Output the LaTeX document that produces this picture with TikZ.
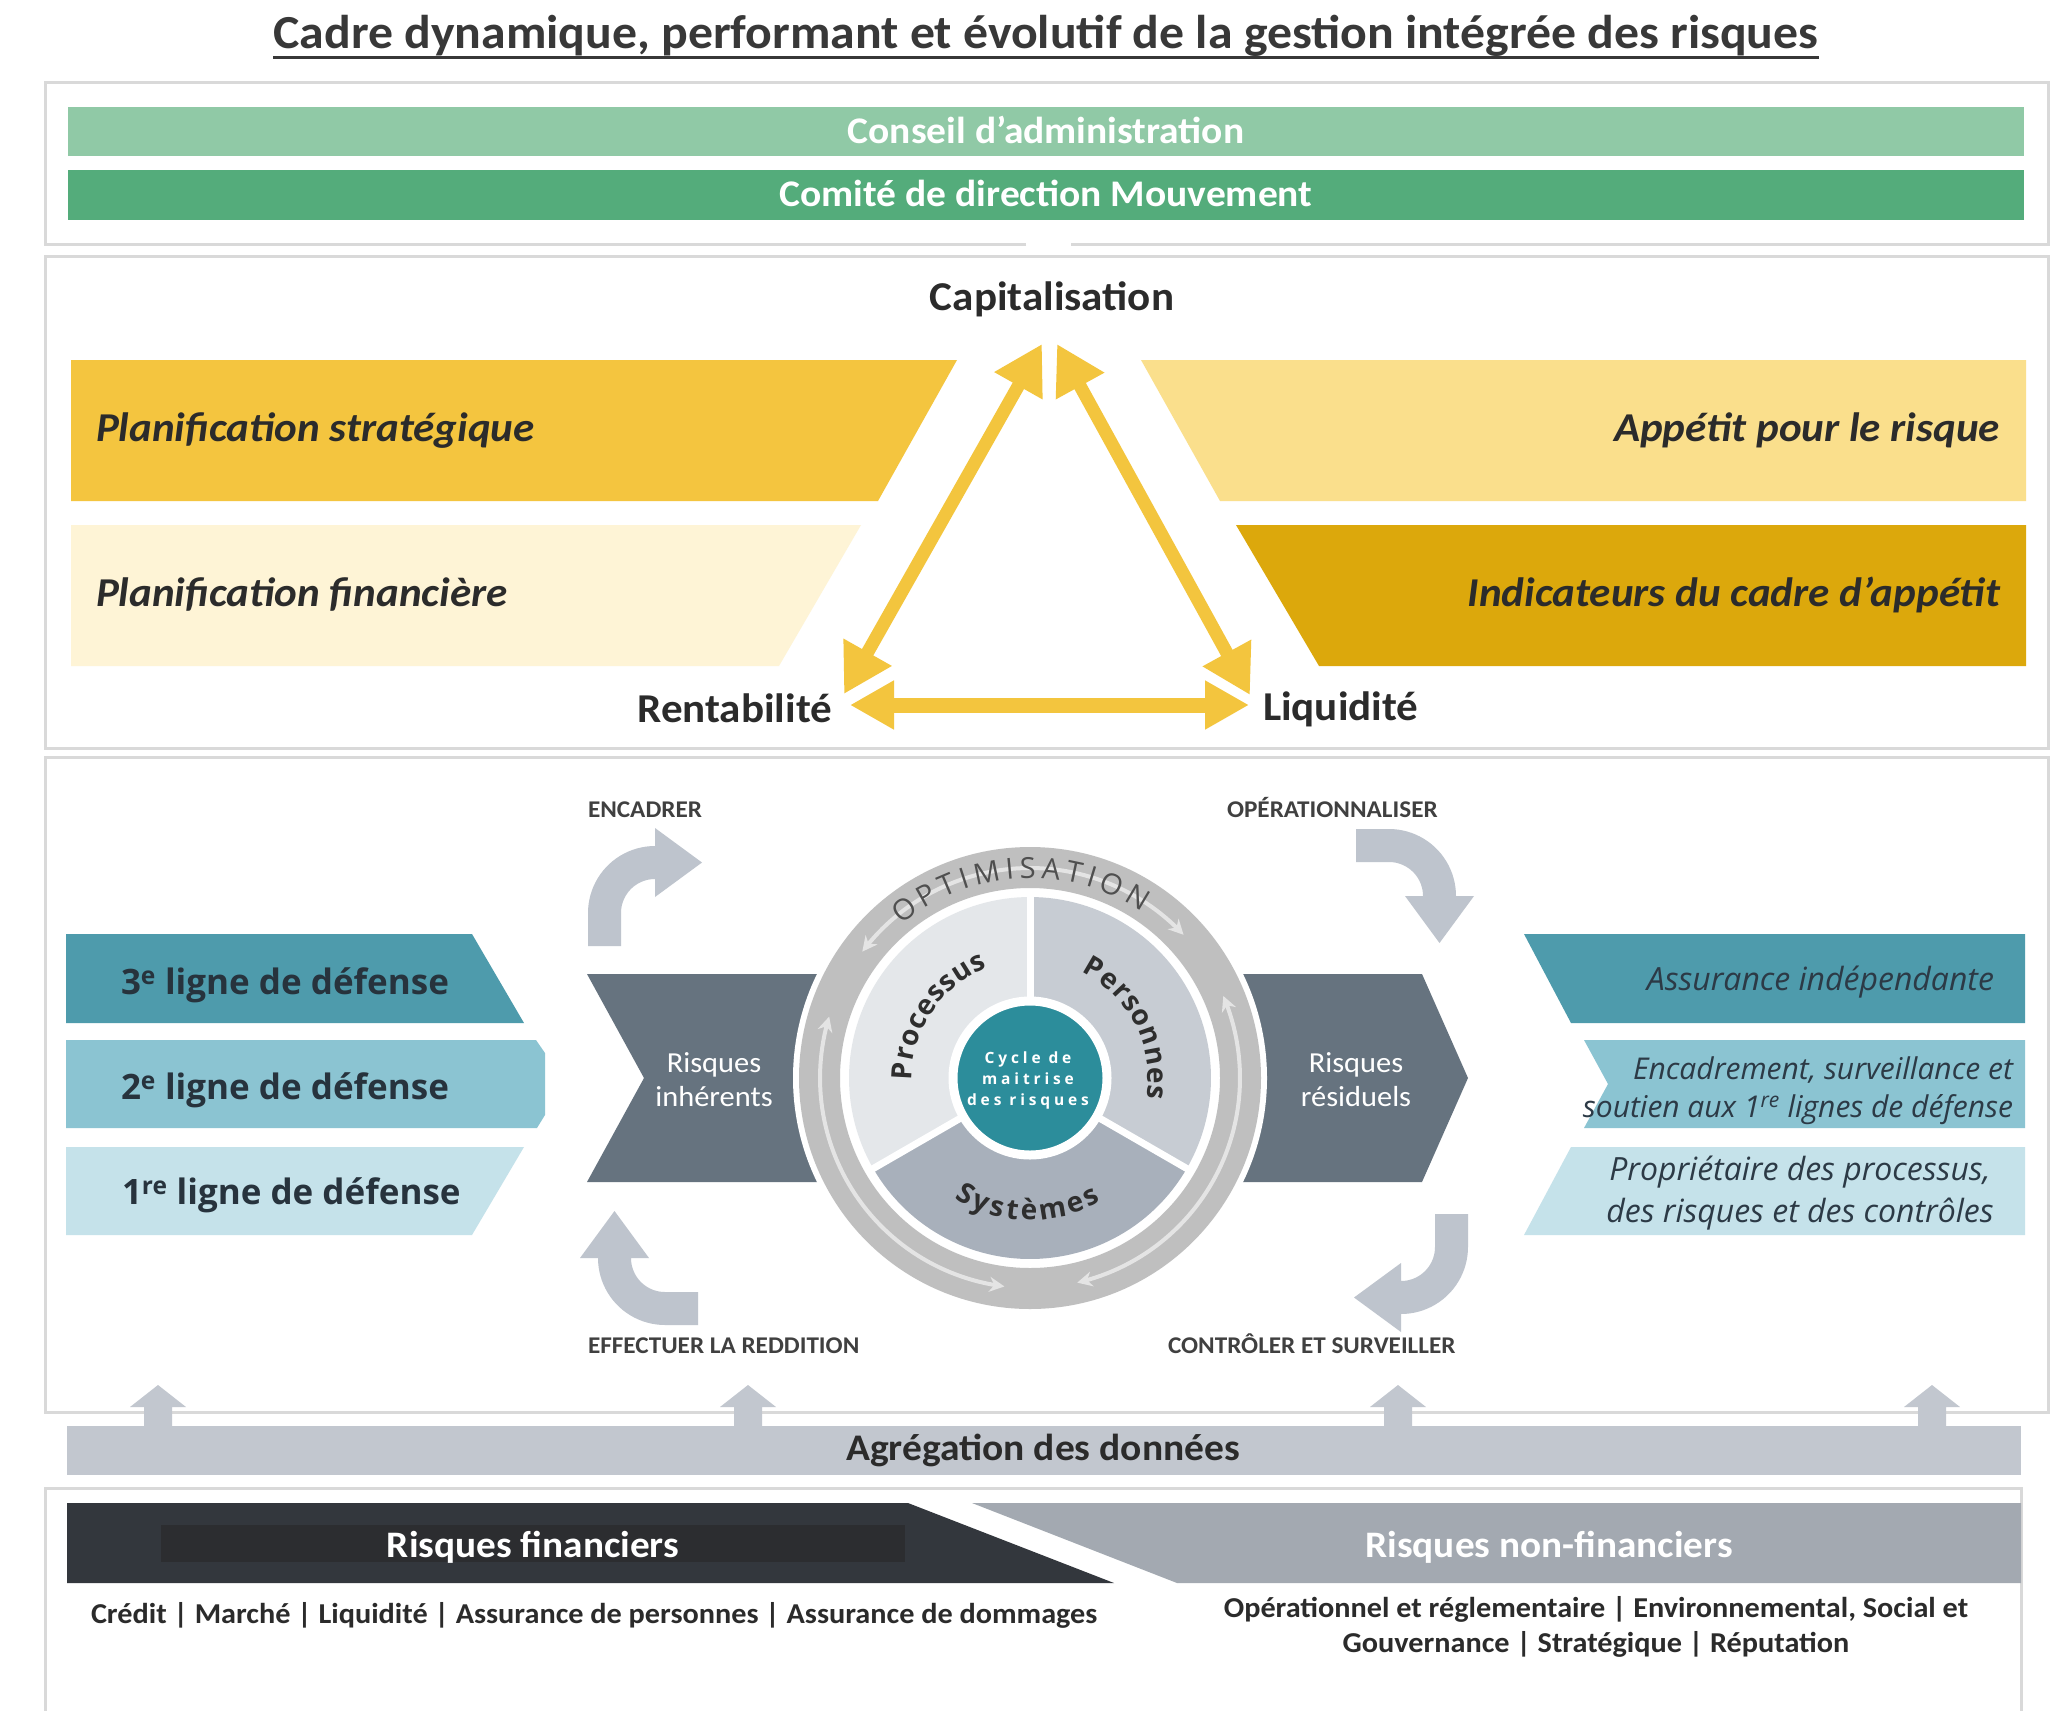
\documentclass[tikz,border=0pt]{standalone}
\usepackage{fontspec}
\setmainfont{Carlito}[FakeStretch=1.05]
\newfontfamily\os{Open Sans}
\usetikzlibrary{arrows.meta,decorations.text}
\definecolor{framegray}{HTML}{D9D9D9}
\definecolor{titlegray}{HTML}{383838}
\definecolor{textdark}{HTML}{2B2B2B}
\definecolor{gA}{HTML}{90C9A6}
\definecolor{gB}{HTML}{54AC7B}
\definecolor{yA}{HTML}{F4C53F}
\definecolor{yB}{HTML}{FEF4D6}
\definecolor{yC}{HTML}{FADF8C}
\definecolor{yD}{HTML}{DCA80C}
\definecolor{yarrowc}{HTML}{F3C53E}
\definecolor{tC}{HTML}{4E9BAC}
\definecolor{tB}{HTML}{8BC4D2}
\definecolor{tA}{HTML}{C5E2EA}
\definecolor{ldark}{HTML}{27333D}
\definecolor{rdark}{HTML}{2C3A46}
\definecolor{slate}{HTML}{66737F}
\definecolor{curvegray}{HTML}{BEC4CD}
\definecolor{ringgray}{HTML}{BFBFBF}
\definecolor{ringarr}{HTML}{E4E4E4}
\definecolor{optgray}{HTML}{4F4F4F}
\definecolor{segA}{HTML}{E4E7EA}
\definecolor{segB}{HTML}{C7CCD3}
\definecolor{segC}{HTML}{A8B0BB}
\definecolor{segtext}{HTML}{2E2E2E}
\definecolor{tealc}{HTML}{2C8D9B}
\definecolor{labgray}{HTML}{404040}
\definecolor{agg}{HTML}{C2C7CF}
\definecolor{darkband}{HTML}{33373D}
\definecolor{darkin}{HTML}{2C2D30}
\definecolor{grayband}{HTML}{A3A9B1}
\newcommand{\fsz}[2]{\fontsize{#1}{#2}\selectfont}
\newcommand{\bentarrow}{(-67,-33) -- (-34,-33) -- (-34,0)
 -- plot[domain=180:90,samples=24] ({34*cos(\x)},{34*sin(\x)})
 -- (0,16) -- (47,50.5) -- (0,85) -- (0,67)
 -- plot[domain=90:180,samples=24] ({67*cos(\x)},{67*sin(\x)}) -- cycle}
\def\cx{1030}
\def\cy{1078}
\begin{document}
\begin{tikzpicture}[x=1pt,y=-1pt,
  every node/.style={inner sep=0pt,outer sep=0pt},
  frame/.style={draw=framegray,line width=3pt},
  yarrD/.style={draw=yarrowc,line width=13pt,{Triangle[length=48pt,width=52pt]}-{Triangle[length=48pt,width=52pt]}},
  yarrH/.style={draw=yarrowc,line width=15pt,{Triangle[length=44pt,width=46pt]}-{Triangle[length=44pt,width=46pt]}},
  head/.style={font=\fsz{41}{44}\bfseries,text=textdark},
  plan/.style={font=\fsz{41}{44}\bfseries\itshape,text=textdark},
  ldef/.style={font=\os\bfseries\fsz{35}{40},text=ldark},
  rdef/.style={font=\os\itshape\fsz{30}{38},text=rdark},
  rdefb/.style={font=\os\itshape\fsz{32}{38},text=rdark},
  cyclab/.style={font=\fsz{24}{26}\bfseries,text=labgray},
  chevtext/.style={font=\fsz{29}{34},text=white,align=center},
  ringarrow/.style={draw=ringarr,line width=4pt},
  bot/.style={font=\fsz{28.8}{35}\bfseries,text=textdark,align=center}
]
\useasboundingbox (0,0) rectangle (2070,1711);
\fill[white] (0,0) rectangle (2070,1711);

% ---------- title
\node[anchor=base,font=\fsz{47.4}{50}\bfseries,text=titlegray] (title) at (1046,48)
  {Cadre dynamique, performant et évolutif de la gestion intégrée des risques};
\draw[titlegray,line width=3pt] ([yshift=-9pt]title.base west) -- ([yshift=-9pt]title.base east);

% ---------- frames
\draw[frame] (1026,244) -- (45,244) -- (45,82) -- (2048,82) -- (2048,244) -- (1071,244);
\draw[frame] (45,256) rectangle (2048,748);
\draw[frame] (45,757) rectangle (2048,1412);
\draw[frame] (45,1711) -- (45,1488) -- (2021,1488) -- (2021,1711);

% ---------- governance bars
\fill[gA] (68,107) rectangle (2024,156);
\fill[gB] (68,170) rectangle (2024,220);
\node[anchor=base,font=\fsz{37.6}{40}\bfseries,text=white] (ca) at (1046,143) {Conseil d’administration};
\node[anchor=base,font=\fsz{37.6}{40}\bfseries,text=white] (cd) at (1046,206) {Comité de direction Mouvement};

% ---------- yellow bands
\fill[yA] (71,360) -- (957,360) -- (878,501) -- (71,501) -- cycle;
\fill[yB] (71,525) -- (861,525) -- (779,666) -- (71,666) -- cycle;
\fill[yC] (1141,360) -- (2026,360) -- (2026,501) -- (1220,501) -- cycle;
\fill[yD] (1236,525) -- (2026,525) -- (2026,666) -- (1319,666) -- cycle;
\node[plan,anchor=base west] (ps) at (96,441) {Planification stratégique};
\node[plan,anchor=base west] (pf) at (96,606) {Planification financière};
\node[plan,anchor=base east] (ap) at (2000,441) {Appétit pour le risque};
\node[plan,anchor=base east] (ic) at (2000,606) {Indicateurs du cadre d’appétit};

% ---------- triangle
\node[head,anchor=base] (cap) at (1052,310) {Capitalisation};
\node[head,anchor=base east] (rent) at (832,722) {Rentabilité};
\node[head,anchor=base west] (liq) at (1263,720) {Liquidité};
\coordinate (capL) at (1042,344);
\coordinate (capR) at (1057,344);
\coordinate (renT) at (844,694);
\coordinate (liqT) at (1250,695);
\coordinate (renB) at (850,705);
\coordinate (liqB) at (1249,705);
\begin{scope}
  \clip (0,250) rectangle (1049.5,740);
  \draw[yarrD] (renT) -- (capL);
\end{scope}
\begin{scope}
  \clip (1049.5,250) rectangle (2070,740);
  \draw[yarrD] (capR) -- (liqT);
\end{scope}
\draw[yarrH] (renB) -- (liqB);

% ---------- lines of defense (left)
\fill[tC] (66,934) -- (472,934) -- (524,1023) -- (66,1023) -- cycle;
\fill[tB] (66,1040) -- (536,1040) -- (545,1053) -- (545,1115) -- (537,1128) -- (66,1128) -- cycle;
\fill[tA] (66,1147) -- (524,1147) -- (472,1235) -- (66,1235) -- cycle;
\node[ldef,anchor=base west] (l3) at (121,994) {3\textsuperscript{e} ligne de défense};
\node[ldef,anchor=base west] (l2) at (121,1099) {2\textsuperscript{e} ligne de défense};
\node[ldef,anchor=base west] (l1) at (122,1204) {1\textsuperscript{re} ligne de défense};

% ---------- lines of defense (right)
\fill[tC] (1524,934) -- (2025,934) -- (2025,1023) -- (1571,1023) -- cycle;
\fill[tB] (1584,1040) -- (2025,1040) -- (2025,1128) -- (1584,1128) -- (1608,1084) -- cycle;
\fill[tA] (1571,1147) -- (2025,1147) -- (2025,1235) -- (1524,1235) -- cycle;
\node[rdefb,anchor=base east] (r3) at (1994,990) {Assurance indépendante};
\node[rdef,anchor=base east] (r2a) at (2013,1079) {Encadrement, surveillance et};
\node[rdef,anchor=base east] (r2b) at (2013,1117) {soutien aux 1\textsuperscript{re} lignes de défense};
\node[rdefb,anchor=base] (r1a) at (1800,1180) {Propriétaire des processus,};
\node[rdefb,anchor=base] (r1b) at (1800,1222) {des risques et des contrôles};

% ---------- chevrons
\fill[slate] (587,974) -- (900,974) -- (900,1182) -- (587,1182) -- (644,1078) -- cycle;
\fill[slate] (1150,974) -- (1422,974) -- (1468,1078) -- (1422,1182) -- (1150,1182) -- cycle;
\node[chevtext] (ri) at (714,1080) {Risques\\inhérents};
\node[chevtext] (rr) at (1356,1080) {Risques\\résiduels};

% ---------- ring and disk
\coordinate (ctr) at (\cx,\cy);
\fill[white] (ctr) circle[radius=237];
\fill[ringgray,even odd rule] (ctr) circle[radius=231] (ctr) circle[radius=190];
\fill[segA] (ctr) -- plot[domain=90:210,samples=60] ({\cx+181*cos(\x)},{\cy-181*sin(\x)}) -- cycle;
\fill[segB] (ctr) -- plot[domain=90:-30,samples=60] ({\cx+181*cos(\x)},{\cy-181*sin(\x)}) -- cycle;
\fill[segC] (ctr) -- plot[domain=210:330,samples=60] ({\cx+181*cos(\x)},{\cy-181*sin(\x)}) -- cycle;
\draw[white,line width=7pt] (ctr) -- ++(0,-182);
\draw[white,line width=7pt] (ctr) -- ++({182*cos(210)},{-182*sin(210)});
\draw[white,line width=7pt] (ctr) -- ++({182*cos(330)},{-182*sin(330)});
\fill[tealc,draw=white,line width=9pt] (ctr) circle[radius=77];
\node[align=center,font=\os\bfseries\fsz{15.5}{21}\addfontfeatures{LetterSpace=25},text=white] (cyc) at (1028,1080)
  {Cycle de\\maitrise\\des risques};

% ring arrows
\draw[ringarrow,{Stealth[length=15pt,width=15pt]}-{Stealth[length=15pt,width=15pt]}] plot[domain=143:43,samples=60] ({\cx+210*cos(\x)},{\cy-210*sin(\x)});
\draw[ringarrow,{Stealth[length=15pt,width=15pt]}-{Stealth[length=15pt,width=15pt]}] plot[domain=163:263,samples=60] ({\cx+210*cos(\x)},{\cy-210*sin(\x)});
\draw[ringarrow,{Stealth[length=15pt,width=15pt]}-{Stealth[length=15pt,width=15pt]}] plot[domain=283:383,samples=60] ({\cx+210*cos(\x)},{\cy-210*sin(\x)});

% curved texts
\path[decorate,decoration={text along path,text align={fit to path},
  text={|\os\fsz{29}{29}\color{optgray}|OPTIMISATION}}]
  plot[domain=130:56,samples=60] ({\cx+200*cos(\x)},{\cy-200*sin(\x)});
\path[decorate,decoration={text along path,text align={fit to path},
  text={|\os\bfseries\fsz{28}{28}\color{segtext}|Processus}}]
  plot[domain=181:111,samples=60] ({\cx+118*cos(\x)},{\cy-118*sin(\x)});
\path[decorate,decoration={text along path,text align={fit to path},
  text={|\os\bfseries\fsz{28}{28}\color{segtext}|Personnes}}]
  plot[domain=64:-10,samples=60] ({\cx+118*cos(\x)},{\cy-118*sin(\x)});
\path[decorate,decoration={text along path,text align={fit to path},
  text={|\os\bfseries\fsz{28}{28}\color{segtext}|Systèmes}}]
  plot[domain=238:300,samples=60] ({\cx+142*cos(\x)},{\cy-142*sin(\x)});

% ---------- bent arrows
\begin{scope}[cm={1,0,0,-1,(655,913)}]
  \fill[curvegray] \bentarrow;
\end{scope}
\begin{scope}[cm={0,-1,-1,0,(1389,896)}]
  \fill[curvegray] \bentarrow;
\end{scope}
\begin{scope}[cm={-1,0,0,1,(1401,1247)}]
  \fill[curvegray] \bentarrow;
\end{scope}
\begin{scope}[cm={0,1,1,0,(665,1258)}]
  \fill[curvegray] \bentarrow;
\end{scope}
\node[cyclab,anchor=base west] (enc) at (588,817) {ENCADRER};
\node[cyclab,anchor=base west] (ope) at (1227,817) {OPÉRATIONNALISER};
\node[cyclab,anchor=base west] (eff) at (588,1353) {EFFECTUER LA REDDITION};
\node[cyclab,anchor=base west] (ctl) at (1168,1353) {CONTRÔLER ET SURVEILLER};

% ---------- aggregation
\fill[agg] (67,1426) rectangle (2021,1475);
\foreach \ux in {158,748,1398,1932} {
  \fill[agg] ({\ux-14},1427) -- ({\ux-14},1407) -- ({\ux-28},1407) -- (\ux,1385)
     -- ({\ux+28},1407) -- ({\ux+14},1407) -- ({\ux+14},1427) -- cycle;
}
\node[anchor=base,font=\fsz{37.6}{40}\bfseries,text=textdark] (agr) at (1043,1460) {Agrégation des données};

% ---------- risk families
\fill[darkband] (67,1503) -- (908,1503) -- (1114,1583) -- (67,1583) -- cycle;
\fill[darkin] (161,1525) rectangle (905,1562);
\fill[grayband] (972,1503) -- (2021,1503) -- (2021,1583) -- (1177,1583) -- cycle;
\node[anchor=base,font=\fsz{37.4}{40}\bfseries,text=white] (rf) at (533,1557) {Risques financiers};
\node[anchor=base,font=\fsz{37.4}{40}\bfseries,text=white] (rnf) at (1549,1557) {Risques non-financiers};
\node[bot,anchor=base west] (fin) at (91,1623)
  {Crédit | Marché | Liquidité | Assurance de personnes | Assurance de dommages};
\node[bot,anchor=base] (nfa) at (1596,1617) {Opérationnel et réglementaire | Environnemental, Social et};
\node[bot,anchor=base] (nfb) at (1596,1652) {Gouvernance | Stratégique | Réputation};
\end{tikzpicture}
\end{document}
